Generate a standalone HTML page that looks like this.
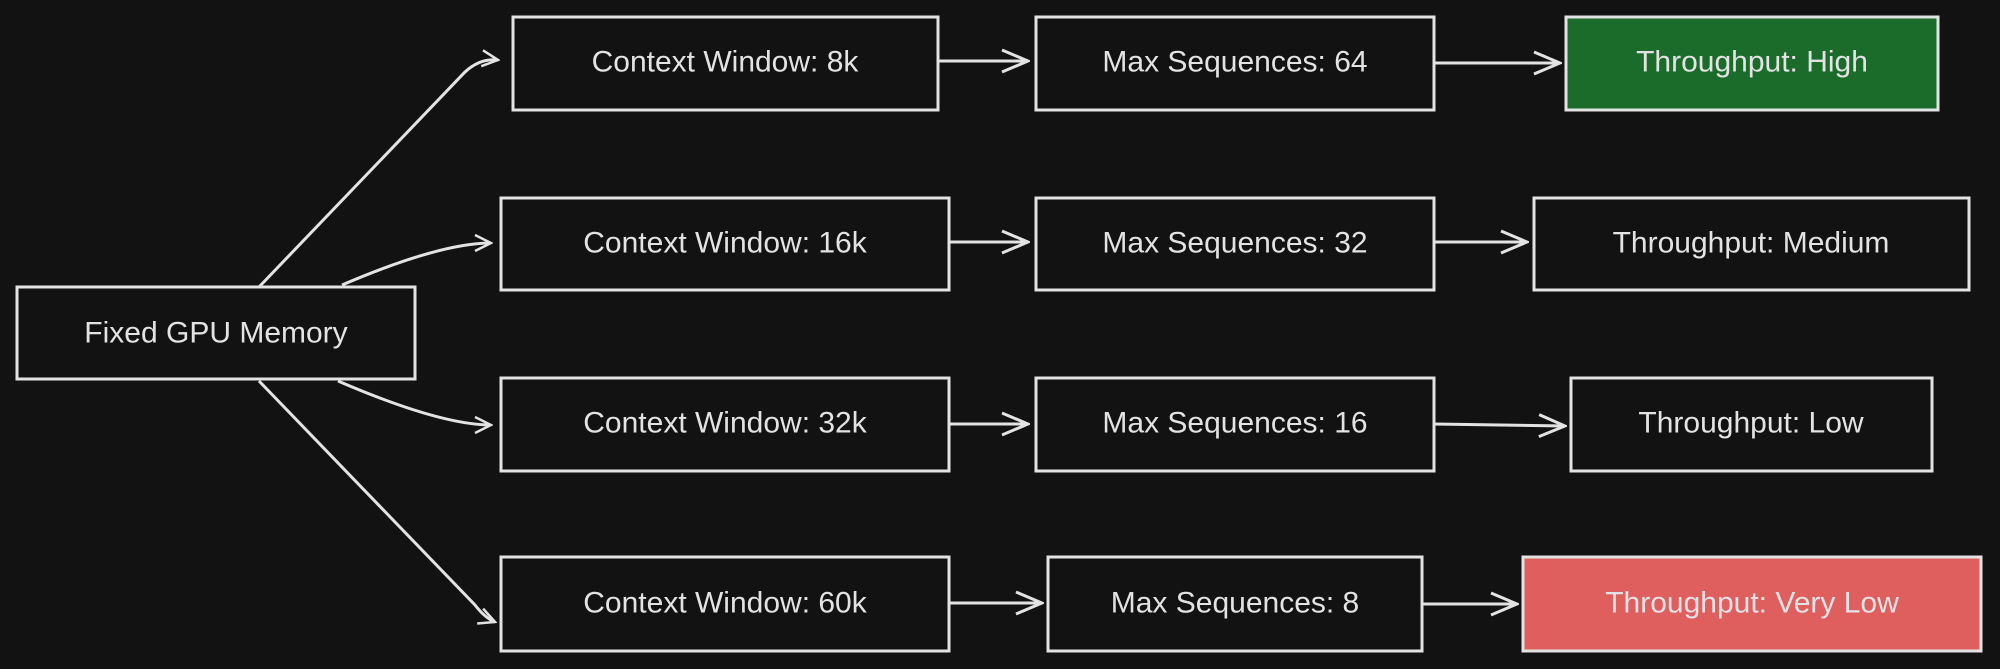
<!DOCTYPE html>
<html><head><meta charset="utf-8"><style>
html,body{margin:0;padding:0;background:#121212;}
svg{display:block}
text{font-family:"Liberation Sans",sans-serif;font-size:30px;fill:#e3e3e3;text-anchor:middle;dominant-baseline:central}
</style></head><body>
<svg width="2000" height="669" viewBox="0 0 2000 669" xmlns="http://www.w3.org/2000/svg">
<defs><marker id="a" viewBox="0 0 20 20" refX="18" refY="10" markerWidth="20" markerHeight="20" markerUnits="userSpaceOnUse" orient="auto"><path d="M2 2 L18 10 L2 18" fill="none" stroke="#e3e3e3" stroke-width="2.5"/></marker>
<marker id="b" viewBox="0 0 30 30" refX="28" refY="15" markerWidth="30" markerHeight="30" markerUnits="userSpaceOnUse" orient="auto"><path d="M2 4 L28 15 L2 26" fill="none" stroke="#e3e3e3" stroke-width="3"/></marker></defs>
<g fill="none" stroke="#e3e3e3" stroke-width="3">
<rect x="17" y="287" width="398" height="92"/>
<rect x="513" y="17" width="425" height="93"/>
<rect x="501" y="198" width="448" height="92"/>
<rect x="501" y="378" width="448" height="93"/>
<rect x="501" y="557" width="448" height="94"/>
<rect x="1036" y="17" width="398" height="93"/>
<rect x="1036" y="198" width="398" height="92"/>
<rect x="1036" y="378" width="398" height="93"/>
<rect x="1048" y="557" width="374" height="94"/>
<rect x="1566" y="17" width="372" height="93" fill="#1b6b2b"/>
<rect x="1534" y="198" width="435" height="92"/>
<rect x="1571" y="378" width="361" height="93"/>
<rect x="1523" y="557" width="458" height="94" fill="#df5f5f"/>
<path d="M259 287 L465 72 Q480 58 498 60" marker-end="url(#a)"/>
<path d="M342 285 Q440 243 491 243" marker-end="url(#a)"/>
<path d="M338 381 Q440 425 491 425" marker-end="url(#a)"/>
<path d="M259 381 L475 605 Q485 618 495 622" marker-end="url(#a)"/>
<path d="M938 61 L1028 61" marker-end="url(#b)"/>
<path d="M1434 63 L1560 63" marker-end="url(#b)"/>
<path d="M949 242 L1028 242" marker-end="url(#b)"/>
<path d="M1434 242 L1527 242" marker-end="url(#b)"/>
<path d="M949 424 L1028 424" marker-end="url(#b)"/>
<path d="M1434 424 L1565 426" marker-end="url(#b)"/>
<path d="M949 603 L1042 603" marker-end="url(#b)"/>
<path d="M1422 604 L1517 604" marker-end="url(#b)"/>
</g>
<text x="216" y="333">Fixed GPU Memory</text>
<text x="725" y="62">Context Window: 8k</text>
<text x="725" y="243">Context Window: 16k</text>
<text x="725" y="423">Context Window: 32k</text>
<text x="725" y="603">Context Window: 60k</text>
<text x="1235" y="62">Max Sequences: 64</text>
<text x="1235" y="243">Max Sequences: 32</text>
<text x="1235" y="423">Max Sequences: 16</text>
<text x="1235" y="603">Max Sequences: 8</text>
<text x="1752" y="62">Throughput: High</text>
<text x="1751" y="243">Throughput: Medium</text>
<text x="1751" y="423">Throughput: Low</text>
<text x="1752" y="603">Throughput: Very Low</text>
</svg>
</body></html>
